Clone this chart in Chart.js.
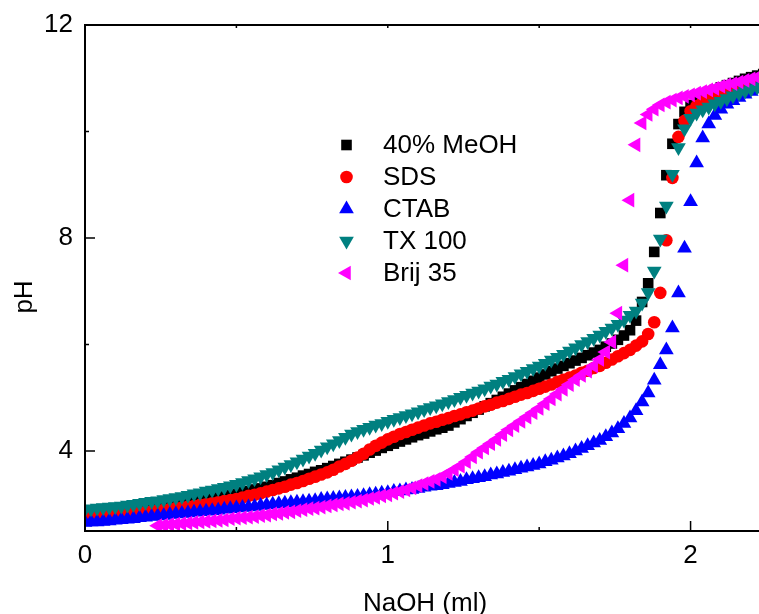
<!DOCTYPE html>
<html>
<head>
<meta charset="utf-8">
<script src="https://cdn.jsdelivr.net/npm/chart.js"></script>
<style>
  html, body { margin: 0; padding: 0; background: #fff; }
  canvas { display: block; }
</style>
</head>
<body>
<canvas id="chart" width="759" height="614"></canvas>
<script>
// NaOH volume added (ml), same for every run
const naoh = [
  0.00,0.02,0.04,0.06,0.08,0.10,0.12,0.14,0.16,0.18,
  0.20,0.22,0.24,0.26,0.28,0.30,0.32,0.34,0.36,0.38,
  0.40,0.42,0.44,0.46,0.48,0.50,0.52,0.54,0.56,0.58,
  0.60,0.62,0.64,0.66,0.68,0.70,0.72,0.74,0.76,0.78,
  0.80,0.82,0.84,0.86,0.88,0.90,0.92,0.94,0.96,0.98,
  1.00,1.02,1.04,1.06,1.08,1.10,1.12,1.14,1.16,1.18,
  1.20,1.22,1.24,1.26,1.28,1.30,1.32,1.34,1.36,1.38,
  1.40,1.42,1.44,1.46,1.48,1.50,1.52,1.54,1.56,1.58,
  1.60,1.62,1.64,1.66,1.68,1.70,1.72,1.74,1.76,1.78,
  1.80,1.82,1.84,1.86,1.88,1.90,1.92,1.94,1.96,1.98,
  2.00,2.02,2.04,2.06,2.08,2.10,2.12,2.14,2.16,2.18,
  2.20,2.22,2.24
];

// pH readings
const meoh = [
  2.80,2.81,2.82,2.83,2.84,2.85,2.86,2.88,2.89,2.91,
  2.92,2.94,2.95,2.97,2.98,3.00,3.02,3.03,3.05,3.07,
  3.08,3.11,3.13,3.15,3.18,3.20,3.23,3.25,3.28,3.30,
  3.33,3.36,3.40,3.43,3.47,3.50,3.54,3.57,3.61,3.64,
  3.68,3.72,3.76,3.80,3.84,3.88,3.92,3.97,4.01,4.06,
  4.10,4.14,4.18,4.22,4.26,4.30,4.33,4.37,4.41,4.44,
  4.48,4.54,4.60,4.66,4.72,4.78,4.84,4.90,4.96,5.02,
  5.08,5.14,5.20,5.26,5.32,5.38,5.44,5.50,5.55,5.60,
  5.65,5.70,5.75,5.80,5.85,5.90,5.96,6.02,6.09,6.17,
  6.27,6.45,6.80,7.15,7.74,8.47,9.18,9.77,10.14,10.37,
  10.50,10.58,10.65,10.72,10.78,10.83,10.87,10.91,10.95,10.99,
  11.02,11.05,11.08
];
const sds = [
  2.76,2.77,2.78,2.79,2.80,2.81,2.82,2.83,2.84,2.85,
  2.86,2.87,2.89,2.90,2.91,2.93,2.94,2.96,2.97,2.99,
  3.00,3.02,3.04,3.06,3.08,3.10,3.13,3.16,3.18,3.21,
  3.24,3.27,3.30,3.33,3.37,3.40,3.44,3.48,3.52,3.56,
  3.60,3.65,3.71,3.76,3.82,3.88,3.95,4.03,4.10,4.16,
  4.22,4.27,4.32,4.36,4.40,4.44,4.48,4.52,4.55,4.59,
  4.62,4.66,4.69,4.73,4.76,4.80,4.84,4.87,4.91,4.94,
  4.98,5.02,5.06,5.09,5.13,5.17,5.21,5.25,5.30,5.34,
  5.38,5.42,5.47,5.51,5.56,5.60,5.66,5.72,5.78,5.84,
  5.90,5.98,6.06,6.20,6.42,6.97,7.96,9.13,9.90,10.20,
  10.38,10.48,10.56,10.62,10.68,10.73,10.77,10.81,10.85,10.89,
  10.92,10.95,10.98
];
const ctab = [
  2.66,2.67,2.67,2.68,2.69,2.70,2.71,2.72,2.73,2.75,
  2.76,2.77,2.78,2.79,2.81,2.82,2.83,2.84,2.85,2.86,
  2.87,2.88,2.89,2.91,2.92,2.93,2.94,2.95,2.96,2.98,
  2.99,3.00,3.01,3.02,3.03,3.04,3.05,3.06,3.07,3.09,
  3.10,3.11,3.12,3.13,3.14,3.15,3.16,3.18,3.19,3.21,
  3.22,3.24,3.25,3.27,3.28,3.30,3.32,3.34,3.35,3.37,
  3.39,3.41,3.43,3.46,3.48,3.50,3.52,3.55,3.57,3.60,
  3.62,3.65,3.68,3.70,3.73,3.76,3.80,3.83,3.87,3.91,
  3.95,4.00,4.05,4.10,4.15,4.20,4.27,4.34,4.42,4.52,
  4.62,4.76,4.92,5.09,5.33,5.62,5.90,6.31,6.97,7.81,
  8.68,9.41,9.88,10.14,10.30,10.42,10.51,10.58,10.64,10.70,
  10.75,10.80,10.84
];
const tx100 = [
  2.91,2.92,2.93,2.94,2.95,2.96,2.97,2.99,3.00,3.02,
  3.04,3.06,3.07,3.09,3.11,3.13,3.15,3.17,3.20,3.22,
  3.25,3.27,3.30,3.32,3.35,3.38,3.41,3.45,3.48,3.52,
  3.56,3.60,3.65,3.70,3.75,3.80,3.85,3.91,3.96,4.02,
  4.08,4.14,4.20,4.26,4.32,4.37,4.41,4.45,4.49,4.52,
  4.56,4.60,4.63,4.67,4.70,4.74,4.78,4.82,4.85,4.89,
  4.93,4.97,5.01,5.05,5.09,5.13,5.17,5.22,5.26,5.31,
  5.35,5.40,5.45,5.50,5.55,5.60,5.65,5.71,5.76,5.82,
  5.88,5.94,6.00,6.06,6.12,6.18,6.25,6.31,6.38,6.46,
  6.55,6.63,6.78,6.98,7.38,7.98,8.60,9.20,9.70,10.05,
  10.25,10.35,10.41,10.46,10.52,10.57,10.62,10.67,10.72,10.76,
  10.80,10.84,10.88
];
const brij35 = [
  null,null,null,null,null,null,null,null,null,null,
  null,null,2.60,2.61,2.62,2.63,2.64,2.65,2.66,2.67,
  2.68,2.69,2.70,2.71,2.73,2.74,2.75,2.76,2.77,2.79,
  2.80,2.82,2.83,2.85,2.86,2.88,2.90,2.92,2.93,2.95,
  2.97,2.99,3.01,3.02,3.04,3.06,3.08,3.11,3.13,3.16,
  3.18,3.21,3.24,3.27,3.31,3.35,3.39,3.43,3.47,3.52,
  3.58,3.65,3.72,3.80,3.89,3.98,4.06,4.14,4.22,4.31,
  4.40,4.48,4.56,4.64,4.72,4.80,4.89,4.98,5.07,5.16,
  5.25,5.34,5.42,5.50,5.60,5.72,5.86,6.05,6.59,7.49,
  8.71,9.75,10.16,10.32,10.42,10.50,10.55,10.59,10.63,10.66,
  10.69,10.72,10.75,10.78,10.81,10.85,10.88,10.90,10.93,10.96,
  10.99,11.02,11.05
];

const seriesNames = ['40% MeOH', 'SDS', 'CTAB', 'TX 100', 'Brij 35'];
const xTicks = [0, 1, 2];
const xMinor = [0.5, 1.5];
const yTicks = [4, 8, 12];
const yMinor = [6, 10];

const FONT = '"Liberation Sans", Arial, sans-serif';

const pts = arr => naoh.map((v, i) => ({ x: v, y: arr[i] })).filter(p => p.y !== null);

const styles = [
  { color: '#000000', pointStyle: 'rect', radius: 7.5, rotation: 0 },
  { color: '#ff0000', pointStyle: 'circle', radius: 6.3, rotation: 0 },
  { color: '#0000ff', pointStyle: 'triangle', radius: 8.5, rotation: 0 },
  { color: '#008080', pointStyle: 'triangle', radius: 8.5, rotation: 180 },
  { color: '#ff00ff', pointStyle: 'triangle', radius: 8.5, rotation: 270 }
];

const values = [meoh, sds, ctab, tx100, brij35];

const datasets = values.map((arr, i) => ({
  label: seriesNames[i],
  data: pts(arr),
  showLine: false,
  pointStyle: styles[i].pointStyle,
  pointRadius: styles[i].radius,
  pointRotation: styles[i].rotation,
  pointBackgroundColor: styles[i].color,
  pointBorderWidth: 0,
  borderWidth: 0,
  clip: 0,
  order: 5 - i   // later series drawn on top
}));

// frame, inward ticks, axis titles and legend
const decorPlugin = {
  id: 'decor',
  afterDraw(chart) {
    const { ctx, chartArea: a } = chart;
    const sx = chart.scales.x, sy = chart.scales.y;
    ctx.save();
    ctx.strokeStyle = '#000';
    ctx.lineWidth = 2;
    ctx.beginPath();
    ctx.moveTo(a.left, a.top); ctx.lineTo(a.right + 2, a.top);
    ctx.moveTo(a.left, a.top - 1); ctx.lineTo(a.left, a.bottom + 1);
    ctx.moveTo(a.left - 1, a.bottom); ctx.lineTo(a.right + 2, a.bottom);
    ctx.stroke();

    ctx.lineWidth = 1.5;
    ctx.beginPath();
    xTicks.forEach(v => {
      const px = sx.getPixelForValue(v);
      ctx.moveTo(px, a.bottom); ctx.lineTo(px, a.bottom - 10);
      ctx.moveTo(px, a.top); ctx.lineTo(px, a.top + 3);
    });
    xMinor.forEach(v => {
      const px = sx.getPixelForValue(v);
      ctx.moveTo(px, a.bottom); ctx.lineTo(px, a.bottom - 4);
      ctx.moveTo(px, a.top); ctx.lineTo(px, a.top + 3);
    });
    yTicks.forEach(v => {
      const py = sy.getPixelForValue(v);
      ctx.moveTo(a.left, py); ctx.lineTo(a.left + 10, py);
    });
    yMinor.forEach(v => {
      const py = sy.getPixelForValue(v);
      ctx.moveTo(a.left, py); ctx.lineTo(a.left + 4, py);
    });
    ctx.stroke();

    // axis titles
    ctx.fillStyle = '#000';
    ctx.font = '26px ' + FONT;
    ctx.textAlign = 'center';
    ctx.textBaseline = 'alphabetic';
    ctx.fillText('NaOH (ml)', 425, 611);
    ctx.save();
    ctx.translate(32, 297);
    ctx.rotate(-Math.PI / 2);
    ctx.fillText('pH', 0, 0);
    ctx.restore();

    // legend inside the plot
    ctx.textAlign = 'left';
    ctx.textBaseline = 'middle';
    seriesNames.forEach((name, i) => {
      const yy = 145 + i * 32;
      const st = styles[i];
      ctx.fillStyle = st.color;
      const opts = { pointStyle: st.pointStyle, radius: st.radius, rotation: st.rotation, borderWidth: 0 };
      if (Chart.helpers && Chart.helpers.drawPoint) {
        Chart.helpers.drawPoint(ctx, opts, 346.5, yy);
      }
      ctx.fillStyle = '#000';
      ctx.fillText(name, 383, yy + 1);
    });
    ctx.restore();
  }
};

const tickFont = { family: FONT, size: 26 };

new Chart(document.getElementById('chart'), {
  type: 'scatter',
  data: { datasets },
  options: {
    responsive: false,
    animation: false,
    devicePixelRatio: 1,
    layout: { autoPadding: false, padding: { top: 25, right: 0, bottom: 0, left: 0 } },
    plugins: { legend: { display: false }, tooltip: { enabled: false } },
    scales: {
      x: {
        type: 'linear', min: 0, max: 2.226,
        grid: { display: false, drawTicks: false },
        border: { display: false },
        afterBuildTicks: s => { s.ticks = xTicks.map(v => ({ value: v })); },
        afterFit: s => { s.height = 83; s.paddingLeft = 0; s.paddingRight = 0; },
        ticks: { font: tickFont, color: '#000', padding: 9, maxRotation: 0, callback: v => String(v) }
      },
      y: {
        type: 'linear', min: 2.5, max: 12,
        grid: { display: false, drawTicks: false },
        border: { display: false },
        afterBuildTicks: s => { s.ticks = yTicks.map(v => ({ value: v })); },
        afterFit: s => { s.width = 85; s.paddingTop = 0; s.paddingBottom = 0; },
        ticks: { font: tickFont, color: '#000', padding: 12, callback: v => String(v) }
      }
    }
  },
  plugins: [decorPlugin]
});
</script>
</body>
</html>
